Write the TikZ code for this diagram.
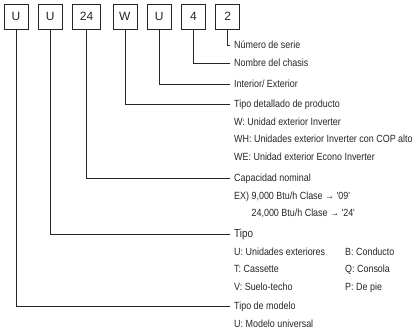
\documentclass[tikz,border=0pt]{standalone}
\usepackage{fontspec}
\setmainfont{Liberation Sans}
\newfontfamily\narrowfont[FakeStretch=0.86]{Liberation Sans}
\usetikzlibrary{positioning}

\tikzset{
  digit/.style={draw=black!85, line width=0.8pt, minimum width=24pt, minimum height=25pt,
    inner sep=0pt, text=black!85, font=\fontsize{12}{12}\selectfont},
  title/.style={anchor=base west, inner sep=0pt, text=black!85,
    font=\narrowfont\fontsize{10.4}{17.5}\selectfont},
  detail/.style={title},
  leader/.style={line width=0.8pt, draw=black!85}
}

\begin{document}
\begin{tikzpicture}[x=1pt,y=-1pt,node distance=9.5pt]
      \useasboundingbox (0,0) rectangle (416,332);
      % code boxes
      \node[digit] (mdl) at (16,16.5) {U};
      \node[digit] (typ) [right = of mdl] {U};
      \node[digit,minimum width=28pt] (cap) [right = of typ] {24};
      \node[digit] (prd) [right = 11.5pt of cap] {W};
      \node[digit] (ioe) [right = of prd] {U};
      \node[digit] (chs) [right = of ioe] {4};
      \node[digit] (ser) [right = of chs] {2};
      % explanations
      \node[title] (serL) at (234,48.5) {Número de serie};
      \node[title] (chsL) at (234,66.5) {Nombre del chasis};
      \node[title] (ioeL) at (234,87.5) {Interior/ Exterior};
      \node[title] (prdL) at (234,107.5) {Tipo detallado de producto};
      \node[detail] (prdD) at ([yshift=-17.5pt]prdL.base west)
      {\begin{tabular}[t]{@{}l@{}}
        W: Unidad exterior Inverter\\
        WH: Unidades exterior Inverter con COP alto\\
        WE: Unidad exterior Econo Inverter
      \end{tabular}};
      \node[title] (capL) at (234,181.5) {Capacidad nominal};
      \node[detail] (capD) at ([yshift=-17.5pt]capL.base west)
      {\begin{tabular}[t]{@{}l@{}}
        EX) 9,000 Btu/h Clase → '09'\\
        \phantom{EX) }24,000 Btu/h Clase → '24'
      \end{tabular}};
      \node[title,font=\narrowfont\fontsize{11.5}{17.5}\selectfont] (typL) at (234,237.5) {Tipo};
      \node[detail] (typD) at ([yshift=-17.5pt]typL.base west)
      {\begin{tabular}[t]{@{}p{111pt}@{}l@{}}
        U: Unidades exteriores & B: Conducto\\
        T: Cassette & Q: Consola\\
        V: Suelo-techo & P: De pie
      \end{tabular}};
      \node[title] (mdlL) at (234,309.5) {Tipo de modelo};
      \node[detail] (mdlD) at ([yshift=-17.5pt]mdlL.base west) {U: Modelo universal};
      % leaders
      \foreach \b in {ser,chs,ioe,prd,cap,typ,mdl}
        \draw[leader] (\b) |- ([xshift=-4pt,yshift=3.5pt]\b L.base west);
\end{tikzpicture}
\end{document}
